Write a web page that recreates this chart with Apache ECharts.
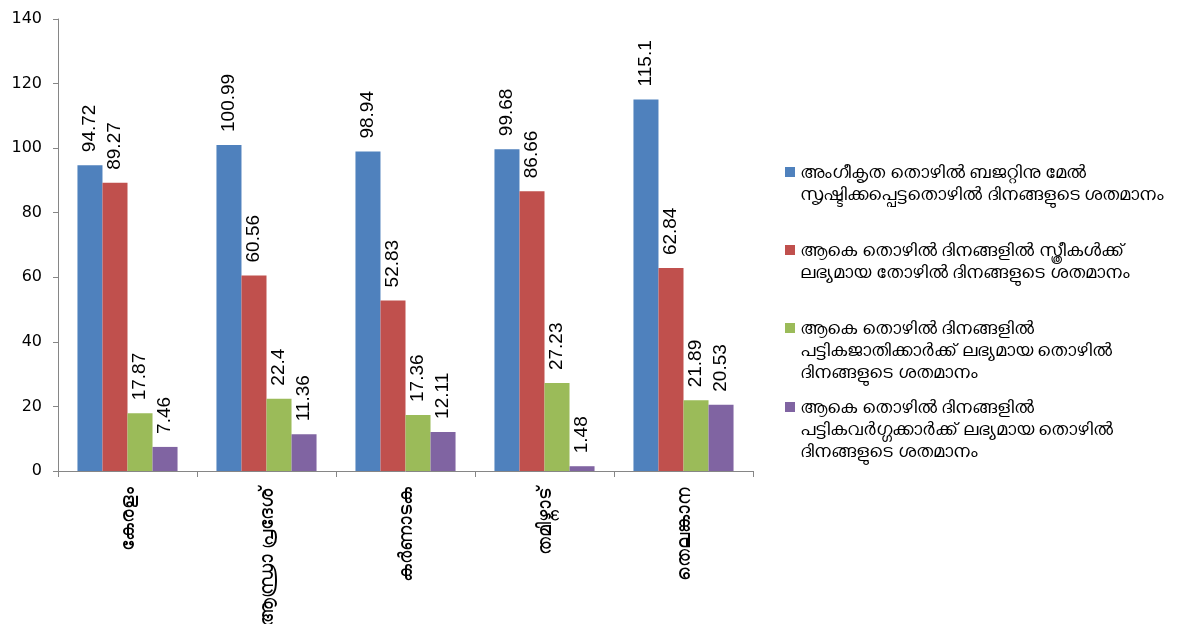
<!DOCTYPE html>
<html><head><meta charset="utf-8">
<script src="https://cdn.jsdelivr.net/npm/echarts@6/dist/echarts.min.js"></script>
<style>html,body{margin:0;padding:0;background:#fff}#c{width:1200px;height:624px}</style>
</head><body><div id="c"></div>
<script>
const categories = ['കേരളം', 'ആന്ധ്രാ പ്രദേശ്', 'കർണാടക', 'തമിഴ്നാട്', 'തെലങ്കാന'];
const seriesNames = [
  'അംഗീകൃത തൊഴിൽ ബജറ്റിനു മേൽ\nസൃഷ്ടിക്കപ്പെട്ടതൊഴിൽ ദിനങ്ങളുടെ ശതമാനം',
  'ആകെ തൊഴിൽ ദിനങ്ങളിൽ സ്ത്രീകൾക്ക്\nലഭ്യമായ തോഴിൽ ദിനങ്ങളുടെ ശതമാനം',
  'ആകെ തൊഴിൽ ദിനങ്ങളിൽ\nപട്ടികജാതിക്കാർക്ക് ലഭ്യമായ തൊഴിൽ\nദിനങ്ങളുടെ ശതമാനം',
  'ആകെ തൊഴിൽ ദിനങ്ങളിൽ\nപട്ടികവർഗ്ഗക്കാർക്ക് ലഭ്യമായ തൊഴിൽ\nദിനങ്ങളുടെ ശതമാനം'
];
const budgetPct = [94.72, 100.99, 98.94, 99.68, 115.1];
const womenPct = [89.27, 60.56, 52.83, 86.66, 62.84];
const scPct = [17.87, 22.4, 17.36, 27.23, 21.89];
const stPct = [7.46, 11.36, 12.11, 1.48, 20.53];
const yTicks = [0, 20, 40, 60, 80, 100, 120, 140];

const colors = ['#4F81BD', '#C0504D', '#9BBB59', '#8064A2'];
const seriesData = [budgetPct, womenPct, scPct, stPct];
const FONT = 'Lato, sans-serif';
const NUMFONT = '"DejaVu Sans", sans-serif';
const LABELFONT = '"Liberation Sans", Arial, sans-serif';
const LH = 22;
const legendTops = [161, 239, 317, 396];

function iconFor(name) {
  const lines = name.split('\n').length;
  const h = lines * LH;
  return {
    h: h,
    icon: 'path://M0,0L10,0M0,6L10,6L10,16L0,16ZM0,' + h + 'L10,' + h
  };
}

const chart = echarts.init(document.getElementById('c'));
chart.setOption({
  animation: false,
  color: colors,
  grid: { left: 58, right: 447, top: 19, bottom: 153, containLabel: false, outerBoundsMode: 'none' },
  legend: seriesNames.map((n, i) => {
    const ic = iconFor(n);
    return {
      data: [{ name: n, icon: ic.icon }],
      orient: 'vertical',
      left: 785,
      top: legendTops[i],
      padding: 0,
      itemGap: 0,
      itemWidth: 10,
      itemHeight: ic.h,
      selectedMode: false,
      textStyle: { fontSize: 18, color: '#000', lineHeight: LH, fontFamily: FONT }
    };
  }),
  xAxis: {
    type: 'category',
    data: categories,
    axisLine: { lineStyle: { color: '#868686', width: 1 } },
    axisTick: { show: true, length: 6, lineStyle: { color: '#868686' } },
    axisLabel: { rotate: 90, fontSize: 19, color: '#000', margin: 16, fontFamily: FONT }
  },
  yAxis: {
    type: 'value',
    min: 0, max: 140, interval: 20,
    axisLine: { show: true, lineStyle: { color: '#868686' } },
    axisTick: { show: true, length: 5, lineStyle: { color: '#868686' } },
    splitLine: { show: false },
    axisLabel: { fontSize: 16, color: '#000', margin: 16, fontFamily: NUMFONT,
      formatter: v => yTicks.includes(v) ? String(v) : '' }
  },
  series: seriesData.map((d, i) => ({
    name: seriesNames[i],
    type: 'bar',
    data: d,
    barGap: '0%',
    barCategoryGap: '28%',
    itemStyle: { color: colors[i] },
    label: {
      show: true, position: 'top', rotate: 90, align: 'left', verticalAlign: 'middle',
      distance: 13, fontSize: 19, color: '#000', fontFamily: LABELFONT
    }
  }))
});
</script></body></html>
